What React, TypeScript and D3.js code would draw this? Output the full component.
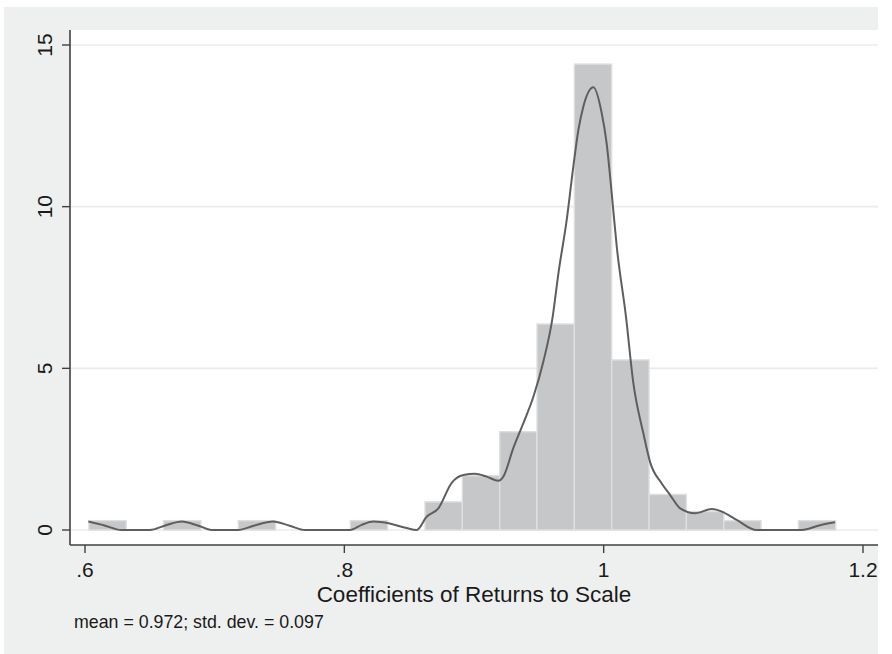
import * as React from 'react';
import * as d3 from 'd3';

// histogram: 20 bins, first lower edge and width in data units
const binStart = 0.603;
const binWidth = 0.0288;
const densities = [0.29, 0, 0.29, 0, 0.29, 0, 0, 0.29, 0, 0.87,
    1.68, 3.04, 6.37, 14.41, 5.26, 1.10, 0.57, 0.29, 0, 0.29];

// kernel density curve
const kdeX = [0.6026, 0.615, 0.628, 0.650, 0.662, 0.6746, 0.687, 0.6977, 0.718, 0.730,
    0.745, 0.758, 0.7697, 0.8044, 0.8134, 0.8224, 0.835, 0.848, 0.8558, 0.8635,
    0.8725, 0.8828, 0.8918, 0.9008, 0.9098, 0.9188, 0.9226, 0.9303, 0.938, 0.9458,
    0.9535, 0.9607, 0.9651, 0.9715, 0.9766, 0.9805, 0.9843, 0.9921, 0.9985, 1.0023,
    1.0062, 1.0101, 1.0172, 1.0229, 1.0306, 1.0358, 1.0448, 1.0513, 1.059, 1.0705,
    1.0834, 1.0911, 1.1026, 1.118, 1.1528, 1.1669, 1.1785];
const kdeY = [0.26, 0.14, 0, 0, 0.14, 0.26, 0.14, 0, 0, 0.13,
    0.26, 0.13, 0, 0, 0.16, 0.26, 0.2, 0.06, 0, 0.41,
    0.67, 1.46, 1.70, 1.74, 1.65, 1.52, 1.65, 2.53, 3.30, 4.12,
    5.21, 6.60, 7.94, 9.59, 11.24, 12.37, 13.09, 13.69, 12.89, 11.96,
    10.41, 8.76, 6.60, 4.54, 2.99, 2.10, 1.44, 1.08, 0.67, 0.52,
    0.65, 0.57, 0.31, 0, 0, 0.15, 0.24];

const xTicks = [0.6, 0.8, 1, 1.2];
const xTickLabels = ['.6', '.8', '1', '1.2'];
const yTicks = [0, 5, 10, 15];

const xTitle = 'Coefficients of Returns to Scale';
const note = 'mean = 0.972; std. dev. = 0.097';

const App: React.FC = () => {
    const ref = React.useRef<SVGSVGElement>(null);

    React.useEffect(() => {
        const width = 892;
        const height = 654;
        const font = '"Liberation Sans", Arial, Helvetica, sans-serif';

        const svg = d3.select(ref.current!);
        svg.selectAll('*').remove();
        svg.attr('width', width).attr('height', height);

        const x = d3.scaleLinear().domain([0.6, 1.2]).range([85, 863]);
        const y = d3.scaleLinear().domain([0, 15]).range([530, 45]);

        const plot = { left: 70, right: 878, top: 30, bottom: 545 };

        // outer background
        svg.append('rect')
            .attr('x', 4).attr('y', 7)
            .attr('width', plot.right - 4).attr('height', height - 7)
            .attr('fill', '#eef0ef');

        // plot region
        svg.append('rect')
            .attr('x', plot.left).attr('y', plot.top)
            .attr('width', plot.right - plot.left).attr('height', plot.bottom - plot.top)
            .attr('fill', '#ffffff');

        // grid lines
        svg.append('g').selectAll('line')
            .data(yTicks)
            .enter().append('line')
                .attr('x1', plot.left).attr('x2', plot.right)
                .attr('y1', d => y(d)).attr('y2', d => y(d))
                .attr('stroke', '#ececec')
                .attr('stroke-width', 1.6);

        // bars
        svg.append('g').selectAll('rect')
            .data(densities)
            .enter().append('rect')
                .attr('x', (d, i) => x(binStart + i * binWidth))
                .attr('width', x(binStart + binWidth) - x(binStart))
                .attr('y', d => y(d))
                .attr('height', d => y(0) - y(d))
                .attr('fill', (d) => d > 0 ? '#c6c7c9' : 'none')
                .attr('stroke', (d) => d > 0 ? '#dedfe0' : 'none')
                .attr('stroke-width', 1.4);

        // density curve
        const pts: [number, number][] = kdeX.map((v, i) => [v, kdeY[i]]);
        const line = d3.line<[number, number]>()
            .x(d => x(d[0]))
            .y(d => y(d[1]))
            .curve(d3.curveMonotoneX);
        svg.append('path')
            .attr('d', line(pts)!)
            .attr('fill', 'none')
            .attr('stroke', '#5e5e5e')
            .attr('stroke-width', 2);

        // y axis
        svg.append('line')
            .attr('x1', plot.left).attr('x2', plot.left)
            .attr('y1', plot.top).attr('y2', plot.bottom)
            .attr('stroke', '#404040').attr('stroke-width', 1.6);
        const yAxis = svg.append('g');
        yAxis.selectAll('line')
            .data(yTicks)
            .enter().append('line')
                .attr('x1', plot.left - 8).attr('x2', plot.left)
                .attr('y1', d => y(d)).attr('y2', d => y(d))
                .attr('stroke', '#404040').attr('stroke-width', 1.4);
        yAxis.selectAll('text')
            .data(yTicks)
            .enter().append('text')
                .attr('transform', d => `translate(52, ${y(d)}) rotate(-90)`)
                .attr('text-anchor', 'middle')
                .attr('font-family', font)
                .attr('font-size', 21)
                .attr('fill', '#1a1a1a')
                .text(d => String(d));

        // x axis
        svg.append('line')
            .attr('x1', plot.left).attr('x2', plot.right)
            .attr('y1', plot.bottom).attr('y2', plot.bottom)
            .attr('stroke', '#404040').attr('stroke-width', 1.6);
        const xAxis = svg.append('g');
        xAxis.selectAll('line')
            .data(xTicks)
            .enter().append('line')
                .attr('x1', d => x(d)).attr('x2', d => x(d))
                .attr('y1', plot.bottom).attr('y2', plot.bottom + 8)
                .attr('stroke', '#404040').attr('stroke-width', 1.4);
        xAxis.selectAll('text')
            .data(xTicks)
            .enter().append('text')
                .attr('x', d => x(d))
                .attr('y', 577)
                .attr('text-anchor', 'middle')
                .attr('font-family', font)
                .attr('font-size', 21)
                .attr('fill', '#1a1a1a')
                .text((d, i) => xTickLabels[i]);

        svg.append('text')
            .attr('x', 474).attr('y', 601.5)
            .attr('text-anchor', 'middle')
            .attr('font-family', font)
            .attr('font-size', 22.5)
            .attr('fill', '#1a1a1a')
            .text(xTitle);

        svg.append('text')
            .attr('x', 74).attr('y', 628)
            .attr('font-family', font)
            .attr('font-size', 17.8)
            .attr('fill', '#1a1a1a')
            .text(note);
    }, []);

    return (
        <svg ref={ref} style={{ position: 'absolute', left: 0, top: 0 }} />
    );
};

export default App;
